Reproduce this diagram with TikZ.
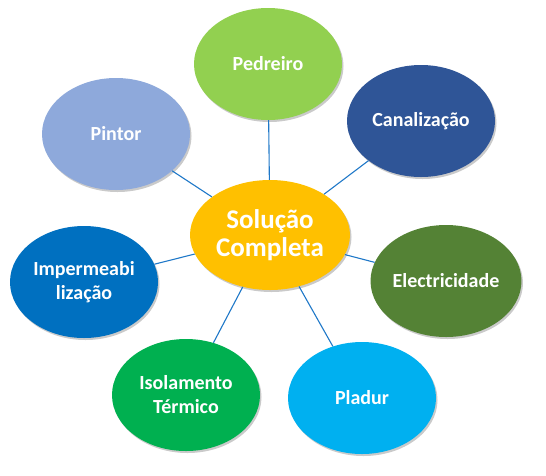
\documentclass[tikz,border=0pt]{standalone}
\usepackage{fontspec}
\setmainfont{Carlito}
\usetikzlibrary{shapes.geometric,shadows}
\definecolor{cCenter}{HTML}{FFC000}
\definecolor{cPed}{HTML}{92D050}
\definecolor{cCan}{HTML}{2F5597}
\definecolor{cEle}{HTML}{548235}
\definecolor{cPla}{HTML}{00B0F0}
\definecolor{cIso}{HTML}{00B050}
\definecolor{cImp}{HTML}{0070C0}
\definecolor{cPin}{HTML}{8EA9DB}
\definecolor{cLine}{HTML}{1F78C8}
\tikzset{
  bubble/.style={ellipse, inner sep=0pt, minimum width=148pt, minimum height=112pt,
    text=white, font=\bfseries\fontsize{20}{24}\selectfont, align=center,
    drop shadow={shadow xshift=1.5pt, shadow yshift=-2pt, opacity=0.35, fill=black!60}},
  hub/.style={bubble, minimum width=160pt, minimum height=110pt, fill=cCenter,
    font=\bfseries\fontsize{27}{28}\selectfont},
  link/.style={draw=cLine, line width=1.1pt}
}
\begin{document}
\begin{tikzpicture}[x=1pt,y=-1pt]
\useasboundingbox (0,0) rectangle (546,475);
\node[hub] (c) at (270,235) {Solução\\Completa};
\node[bubble, fill=cPed] (ped) at (268,64) {Pedreiro};
\node[bubble, fill=cCan] (can) at (421,121) {Canalização};
\node[bubble, fill=cEle] (ele) at (446,281) {Electricidade};
\node[bubble, fill=cPla] (pla) at (362,398) {Pladur};
\node[bubble, fill=cIso] (iso) at (186,395) {Isolamento\\Térmico};
\node[bubble, fill=cImp] (imp) at (84,282) {Impermeabi\\lização};
\node[bubble, fill=cPin] (pin) at (116,134) {Pintor};
\foreach \s in {ped,can,ele,pla,iso,imp,pin}
  \draw[link] (c) -- (\s);
\end{tikzpicture}
\end{document}
